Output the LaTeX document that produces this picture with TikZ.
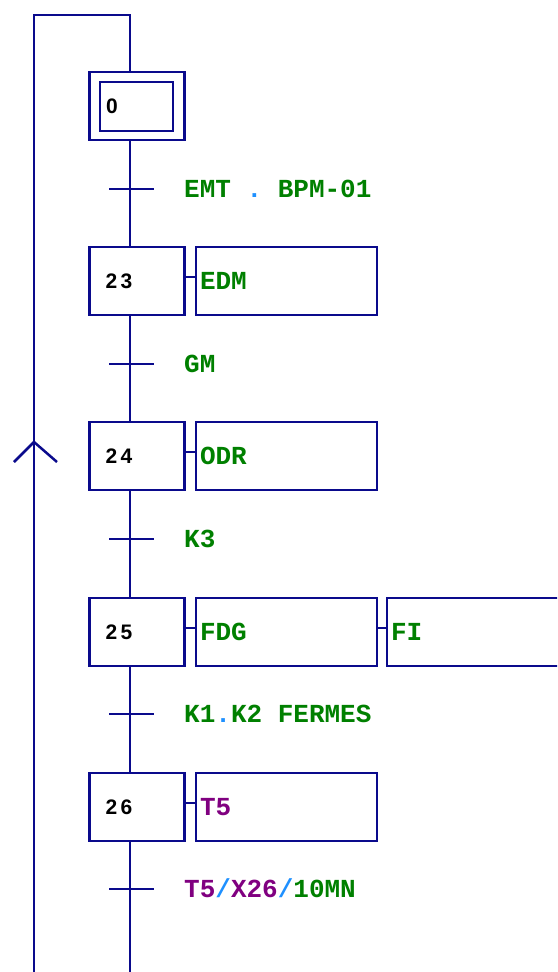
\documentclass[tikz,border=0pt]{standalone}
\usepackage{fontspec}
\setmonofont{Liberation Mono}
\newfontfamily\numfont[LetterSpace=16]{Liberation Sans}
\definecolor{grafnavy}{RGB}{10,10,140}
\definecolor{condgreen}{RGB}{0,128,0}
\definecolor{tempo}{RGB}{128,0,128}
\definecolor{oper}{RGB}{30,144,255}
\tikzset{
  link/.style={draw=grafnavy, line width=2.5pt},
  stepbox/.style={link, text width=63pt, inner xsep=16pt, inner ysep=0pt,
    minimum height=68pt, align=left, font=\numfont\bfseries\fontsize{21}{23}\selectfont},
  initbox/.style={link, minimum width=95pt, minimum height=68pt, inner sep=0pt},
  actbox/.style={link, text width=173pt, inner xsep=4pt, inner ysep=0pt, text=condgreen,
    minimum height=68pt, align=left, font=\ttfamily\bfseries\fontsize{26}{28}\selectfont},
  cond/.style={anchor=base west, inner sep=0pt, text=condgreen,
    font=\ttfamily\bfseries\fontsize{26}{28}\selectfont},
}
\begin{document}
\begin{tikzpicture}[x=1pt, y=-1pt]
    \useasboundingbox (0,0) rectangle (557,972);
    \clip (0,0) rectangle (557,972);

    % Loop back
    \coordinate (top) at (130,15);
    \coordinate (topl) at (34,15);
    \coordinate (botl) at (34,972);
    \coordinate (bot) at (130,972);
    \coordinate (up) at (34,442);

    % Steps
    \node[initbox] (s0) at (137,106) {};
    \node[link, minimum width=73pt, minimum height=49pt, inner xsep=6pt, inner ysep=0pt,
      text width=61pt, align=left, font=\numfont\bfseries\fontsize{21}{23}\selectfont] (s0in) at (136.5,106.5) {0};
    \node[stepbox] (s23) at (137,281) {23};
    \node[stepbox] (s24) at (137,456) {24};
    \node[stepbox] (s25) at (137,632) {25};
    \node[stepbox] (s26) at (137,807) {26};

    % Actions
    \node[actbox] (a23) at (286.5,281) {EDM};
    \node[actbox] (a24) at (286.5,456) {ODR};
    \node[actbox] (a25) at (286.5,632) {FDG};
    \node[actbox] (a25b) at (477.5,632) {FI};
    \node[actbox, text=tempo] (a26) at (286.5,807) {T5};
    \draw[link] ([yshift=4pt]s23.east) -- ([yshift=4pt]a23.west);
    \draw[link] ([yshift=4pt]s24.east) -- ([yshift=4pt]a24.west);
    \draw[link] ([yshift=4pt]s25.east) -- ([yshift=4pt]a25.west);
    \draw[link] ([yshift=4pt]a25.east) -- ([yshift=4pt]a25b.west);
    \draw[link] ([yshift=4pt]s26.east) -- ([yshift=4pt]a26.west);

    % Transitions
    \coordinate (t1) at (130,189);
    \coordinate (t2) at (130,364);
    \coordinate (t3) at (130,539);
    \coordinate (t4) at (130,714);
    \coordinate (t5) at (130,889);
    \foreach \t in {t1,t2,t3,t4,t5}
      \draw[link] ([xshift=-21pt]\t) -- ([xshift=24pt]\t);
    \node[cond] (c1) at (184,197) {EMT~{\color{oper}.}~BPM-01};
    \node[cond] (c2) at (184,372) {GM};
    \node[cond] (c3) at (184,547) {K3};
    \node[cond] (c4) at (184,722) {K1{\color{oper}.}K2~FERMES};
    \node[cond] (c5) at (184,897) {{\color{tempo}T5}{\color{oper}/}{\color{tempo}X26}{\color{oper}/}10MN};

    % Links
    \draw[link] (botl) -- (topl) -- (top) -- (top |- s0.north);
    \draw[link] (top |- s0.south) -- (t1) -- (t1 |- s23.north);
    \draw[link] (t1 |- s23.south) -- (t2) -- (t2 |- s24.north);
    \draw[link] (t2 |- s24.south) -- (t3) -- (t3 |- s25.north);
    \draw[link] (t3 |- s25.south) -- (t4) -- (t4 |- s26.north);
    \draw[link] (t4 |- s26.south) -- (t5) -- (bot);

    % Arrow up
    \draw[link] ([shift={(-20,20)}]up) -- (up) -- ([shift={(23,20)}]up);
\end{tikzpicture}
\end{document}
